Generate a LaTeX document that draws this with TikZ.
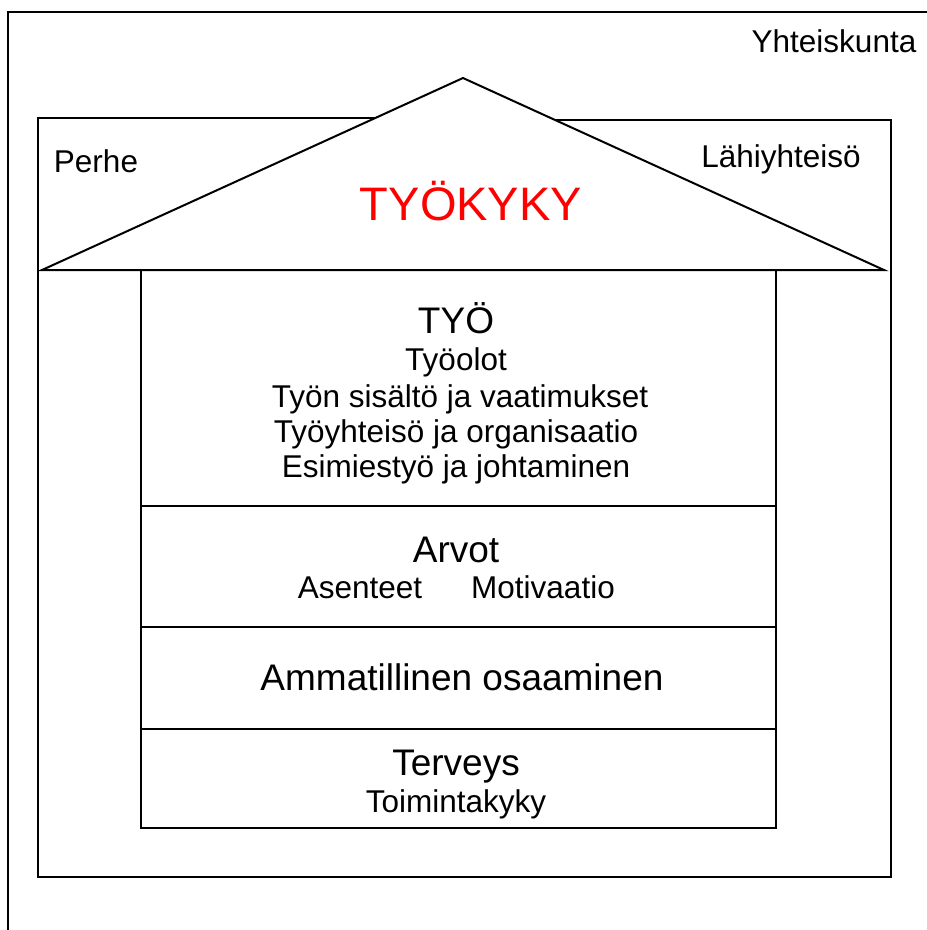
\documentclass[tikz,border=0pt]{standalone}
\usepackage{fontspec}
\setmainfont{Liberation Sans}
\begin{document}
\begin{tikzpicture}[x=1pt,y=-1pt,line width=2pt,
  lbl/.style={anchor=base,inner sep=0pt,font=\fontsize{31.5}{38}\selectfont},
  big/.style={anchor=base,inner sep=0pt,font=\fontsize{37}{44}\selectfont},
  title/.style={anchor=base,inner sep=0pt,font=\fontsize{47}{56}\selectfont,text=red}]
\useasboundingbox (0,0) rectangle (927,930);
% society frame (only top and left visible)
\draw (8,930) -- (8,12) -- (927,12);
% family / community frame
\draw (375,118) -- (38,118) -- (38,877) -- (891,877) -- (891,120) -- (555,120);
% roof
\draw[fill=white] (42,270) -- (463,78) -- (884,270) -- cycle;
% house body
\draw (141,270) -- (141,828) -- (776,828) -- (776,270);
\draw (141,506) -- (776,506);
\draw (141,627) -- (776,627);
\draw (141,729) -- (776,729);
% labels
\node[lbl] (yht) at (834,52) {Yhteiskunta};
\node[lbl] (perhe) at (96,172) {Perhe};
\node[lbl] (lahi) at (781,167) {Lähiyhteisö};
\node[title] (tyokyky) at (471,220) {TYÖKYKY};
\node[big] (tyo) at (456,333) {TYÖ};
\node[lbl] (olot) at (456,370) {Työolot};
\node[lbl] (sis) at (460,407) {Työn sisältö ja vaatimukset};
\node[lbl] (yht2) at (456,442) {Työyhteisö ja organisaatio};
\node[lbl] (esim) at (456,477) {Esimiestyö ja johtaminen};
\node[big] (arvot) at (456,562) {Arvot};
\node[lbl] (asen) at (360,598) {Asenteet};
\node[lbl] (moti) at (543,598) {Motivaatio};
\node[big] (amm) at (462,690) {Ammatillinen osaaminen};
\node[big] (terv) at (456,775) {Terveys};
\node[lbl] (toim) at (456,812) {Toimintakyky};
\end{tikzpicture}
\end{document}
